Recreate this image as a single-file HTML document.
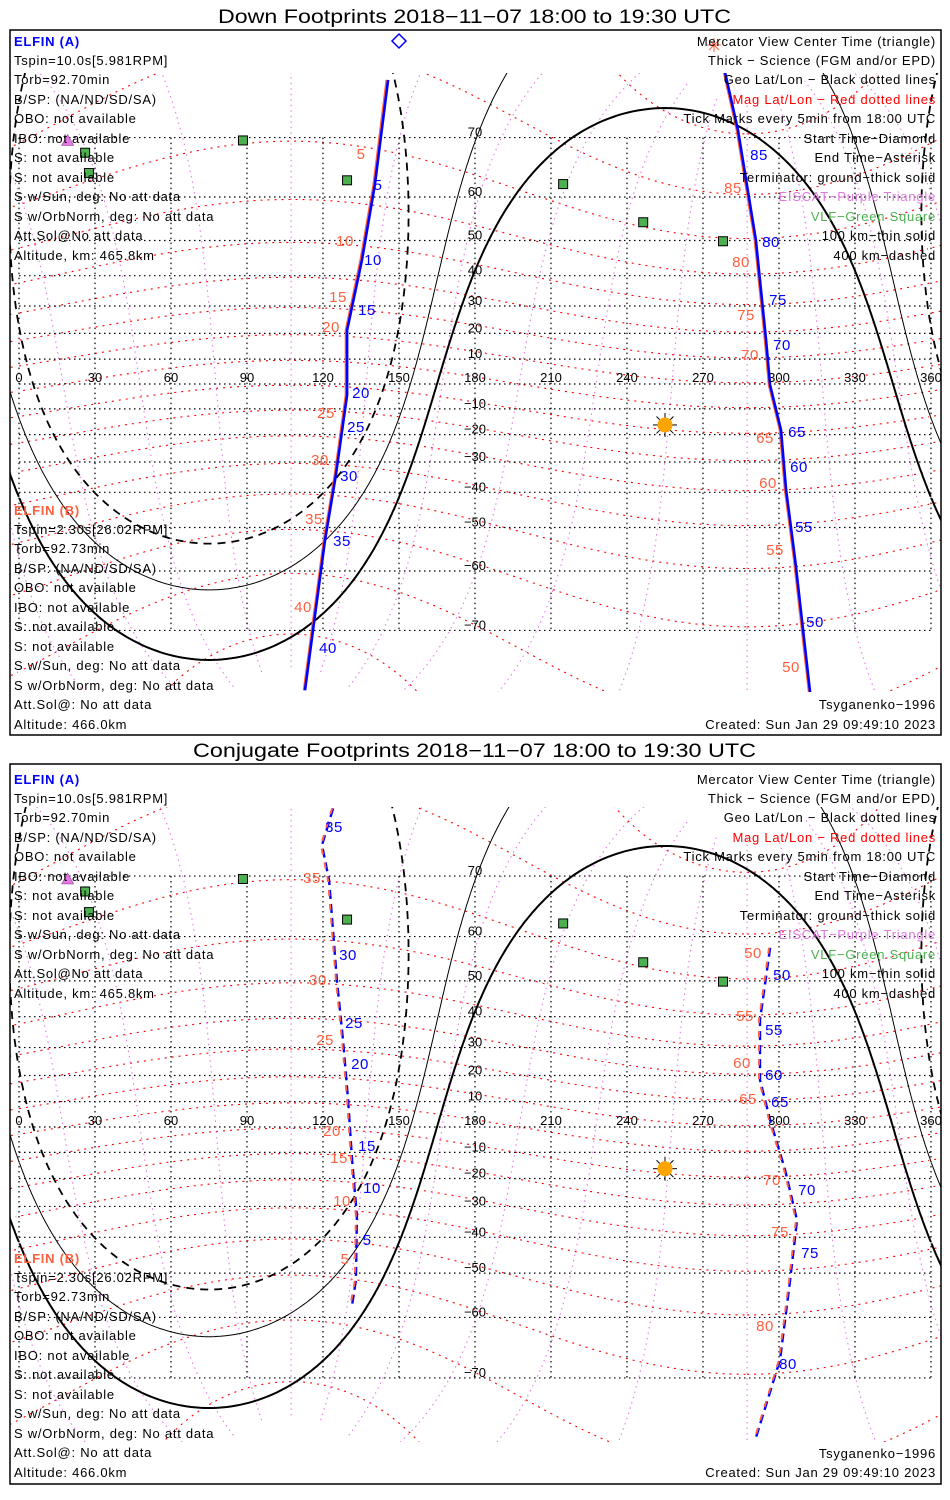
<!DOCTYPE html>
<html><head><meta charset="utf-8"><style>
html,body{margin:0;padding:0;width:950px;height:1500px;overflow:hidden;background:#fff;}
svg{display:block;position:absolute;left:0;top:0;overflow:hidden;}
text{font-family:"Liberation Sans",sans-serif;}
.lt{font-size:13px;letter-spacing:0.75px;fill:#000;}
.rt{font-size:13px;letter-spacing:0.75px;fill:#000;text-anchor:end;}
.ax{font-size:13px;fill:#000;text-anchor:middle;}
.tl{font-size:15px;letter-spacing:0.5px;text-anchor:middle;}
</style></head><body>
<svg id="chart" width="950" height="1500" viewBox="0 0 950 1500" xmlns="http://www.w3.org/2000/svg">
<rect width="950" height="1500" fill="#fff"/>
<defs>
<clipPath id="clip0"><rect x="10" y="73" width="931" height="619"/></clipPath>
<clipPath id="clip1"><rect x="10" y="807" width="931" height="635"/></clipPath>
</defs>
<g id="layers"></g>
</svg>
<script>
// ---- data ----
const lonTicks=[0,30,60,90,120,150,180,210,240,270,300,330,360];
const latTicks=[70,60,50,40,30,20,10,-10,-20,-30,-40,-50,-60,-70];
const magLats=[-80,-70,-60,-50,-40,-30,-20,-10,0,10,20,30,40,50,60,70,80];
const magLons=[0,30,60,90,120,150,180,210,240,270,300,330];
const magPole=[80.5,287.4];
const subsolar=[255.0,-16.3];
const termAngles=[90,100.1,109.7];
// Down footprints (panel 0)
const downA_W_lon=[145.7,140.5,135.4,129.5,129.5,125.1,120.8,112.9];
const downA_W_lat=[76.6,62.4,44.7,21.2,-4.4,-34.4,-53.2,-76.8];
const downB_W_lon=[145.0,139.8,134.7,128.9,128.9,124.5,120.2,112.3];
const downB_W_lat=[76.6,62.4,44.7,21.2,-4.4,-34.4,-53.2,-76.8];
const downA_E_lon=[278.7,283.8,290.9,294.9,296.5,300.8,302.8,306.4,312.3];
const downA_E_lat=[77.3,71.0,50.1,17.4,-0.5,-18.2,-39.2,-57.7,-77.0];
const downB_E_lon=[278.1,283.2,290.3,294.3,295.9,300.2,302.2,305.8,311.7];
const downB_E_lat=[77.3,71.0,50.1,17.4,-0.5,-18.2,-39.2,-57.7,-77.0];
// Conjugate footprints (panel 1)
const conjA_W_lon=[124.0,119.6,122.4,125.5,127.9,129.9,131.5,133.4,133.0,131.5];
const conjA_W_lat=[77.4,73.8,69.4,50.2,32.6,10.6,-13.0,-33.1,-51.8,-57.4];
const conjB_W_lon=[123.6,119.2,122.0,125.1,127.5,129.5,131.1,133.0,132.6,130.7];
const conjB_W_lat=[77.4,73.8,69.4,50.2,32.6,10.6,-13.0,-33.1,-51.8,-58.0];
const conjA_E_lon=[296.5,292.5,292.5,296.5,302.4,307.1,304.4,300.4,290.6];
const conjA_E_lat=[57.7,39.0,18.3,2.8,-16.8,-34.6,-51.8,-67.4,-76.9];
const conjB_E_lon=[296.1,292.1,292.1,296.1,302.0,306.7,304.0,300.0,290.2];
const conjB_E_lat=[57.7,39.0,18.3,2.8,-16.8,-34.6,-51.8,-67.4,-76.9];
const vlfLon=[88.4,26.1,27.6,129.5,214.8,246.4,277.9];
const vlfLat=[69.6,67.8,64.5,63.2,62.5,54.5,49.8];
const eiscatLon=[15.8,19.2];
const eiscatLat=[78.2,69.6];

// ---- projection ----
const P=[{y0:384,k:142,top:73,bot:692},{y0:1127,k:144.6,top:807,bot:1442}];
const R=Math.PI/180;
function X(lon){return 19+lon*2.5333;}
function Y(p,lat){lat=Math.max(-89,Math.min(89,lat));const y=p.y0-p.k*Math.log(Math.tan(Math.PI/4+lat*R/2));return Math.max(p.top-20,Math.min(p.bot+20,y));}
const NS='http://www.w3.org/2000/svg';
const root=document.getElementById('layers');
function el(tag,attrs,parent){const e=document.createElementNS(NS,tag);for(const k in attrs)e.setAttribute(k,attrs[k]);(parent||root).appendChild(e);return e;}
function drawCurve(p,g,lons,lats,style,name){
  for(const s of [-360,0,360]){
    let d='';let prev=null;
    for(let i=0;i<lons.length;i++){
      const c=(prev===null||Math.abs(lons[i]-prev)>180)?'M':'L';
      const x=Math.max(-20,Math.min(970,X(lons[i]+s)));
      d+=c+x.toFixed(1)+','+Y(p,lats[i]).toFixed(1)+' ';prev=lons[i];
    }
    const e=el('path',Object.assign({d:d,fill:'none'},style),g);
    
    
  }
}
function magToGeo(mlat,mlon){
  const lp=magPole[0]*R,op=magPole[1]*R;
  const z=[Math.cos(lp)*Math.cos(op),Math.cos(lp)*Math.sin(op),Math.sin(lp)];
  let y=[-z[1],z[0],0];const n=Math.hypot(y[0],y[1]);y=[y[0]/n,y[1]/n,0];
  const x=[y[1]*z[2]-y[2]*z[1],y[2]*z[0]-y[0]*z[2],y[0]*z[1]-y[1]*z[0]];
  const a=mlat*R,b=mlon*R;
  const mx=Math.cos(a)*Math.cos(b),my=Math.cos(a)*Math.sin(b),mz=Math.sin(a);
  const g=[x[0]*mx+y[0]*my+z[0]*mz,x[1]*mx+y[1]*my+z[1]*mz,x[2]*mx+y[2]*my+z[2]*mz];
  let lon=Math.atan2(g[1],g[0])/R;if(lon<0)lon+=360;
  return [lon,Math.asin(Math.max(-1,Math.min(1,g[2])))/R];
}
function circle(c,ang){
  const la=c[1]*R,lo=c[0]*R,d=ang*R;const lons=[],lats=[];
  for(let t=0;t<=360;t+=0.5){const az=t*R;
    const lat2=Math.asin(Math.sin(la)*Math.cos(d)+Math.cos(la)*Math.sin(d)*Math.cos(az));
    let lon2=lo+Math.atan2(Math.sin(az)*Math.sin(d)*Math.cos(la),Math.cos(d)-Math.sin(la)*Math.sin(lat2));
    let L=lon2/R;L=((L%360)+360)%360;lons.push(L);lats.push(lat2/R);}
  return [lons,lats];
}

P.forEach((p,pi)=>{
  const g=el('g',{'clip-path':'url(#clip'+pi+')'});
  
  
  magLats.forEach(ml=>{const lo=[],la=[];for(let m=0;m<=360;m+=2){const q=magToGeo(ml,m);lo.push(q[0]);la.push(q[1]);}
    drawCurve(p,g,lo,la,{stroke:'#ff0000','stroke-width':1.1,'stroke-dasharray':'2,5'},'mag-lat-line');});
  magLons.forEach(ml=>{const lo=[],la=[];for(let m=-84;m<=84;m+=1){const q=magToGeo(m,ml);lo.push(q[0]);la.push(q[1]);}
    drawCurve(p,g,lo,la,{stroke:'#e87ae8','stroke-width':1.1,'stroke-dasharray':'1.5,4'},'mag-lon-line');});
  latTicks.forEach(lt=>{const e=el('line',{x1:X(0),x2:X(360),y1:Y(p,lt),y2:Y(p,lt),stroke:'#000','stroke-width':1.2,'stroke-dasharray':'1.5,3.5'},g);
    
    });
  const eq=el('line',{x1:X(0),x2:X(360),y1:Y(p,0),y2:Y(p,0),stroke:'#000','stroke-width':1.2,'stroke-dasharray':'1.5,3.5'},g);
  
  
  lonTicks.forEach(lo=>{const e=el('line',{x1:X(lo),x2:X(lo),y1:Y(p,70),y2:Y(p,-70),stroke:'#000','stroke-width':1.2,'stroke-dasharray':'1.5,3.5'},g);
    
    });
  const styles=[{stroke:'#000','stroke-width':2},{stroke:'#000','stroke-width':1},{stroke:'#000','stroke-width':1.8,'stroke-dasharray':'8,6'}];
  const tnames=['terminator-ground','terminator-100km','terminator-400km'];
  termAngles.forEach((a,i)=>{const c=circle(subsolar,a);drawCurve(p,g,c[0],c[1],styles[i],tnames[i]);});
  const sets=pi===0?[[downB_W_lon,downB_W_lat,'#ff6040',1.6,null,'elfin-b-track-west'],[downA_W_lon,downA_W_lat,'#0000ff',2.6,null,'elfin-a-track-west'],[downB_E_lon,downB_E_lat,'#ff6040',1.6,null,'elfin-b-track-east'],[downA_E_lon,downA_E_lat,'#0000ff',2.6,null,'elfin-a-track-east']]
   :[[conjA_W_lon,conjA_W_lat,'#0000ff',2.4,'9,5','elfin-a-track-west'],[conjB_W_lon,conjB_W_lat,'#ff6040',2.0,'6,8','elfin-b-track-west'],[conjA_E_lon,conjA_E_lat,'#0000ff',2.4,'9,5','elfin-a-track-east'],[conjB_E_lon,conjB_E_lat,'#ff6040',2.0,'6,8','elfin-b-track-east']];
  sets.forEach(s=>{const st={stroke:s[2],'stroke-width':s[3]};if(s[4])st['stroke-dasharray']=s[4];drawCurve(p,g,s[0],s[1],st,s[5]);});
  vlfLon.forEach((lo,i)=>{const x=X(lo),y=Y(p,vlfLat[i]);
    const r=el('rect',{x:x-4.5,y:y-4.5,width:9,height:9,fill:'#4caf50',stroke:'#000','stroke-width':1},g);
    
    });
  eiscatLon.forEach((lo,i)=>{const x=X(lo),y=Y(p,eiscatLat[i]);
    const t=el('polygon',{points:(x-6)+','+(y+5)+' '+(x+6)+','+(y+5)+' '+x+','+(y-6),fill:'#e07ae0',stroke:'#a040a0','stroke-width':0.6},g);
    
    });
  const sx=X(subsolar[0]),sy=Y(p,subsolar[1]);
  const sg=el('g',{},g);
  
  
  for(let a=0;a<360;a+=45){el('line',{x1:sx,y1:sy,x2:sx+12*Math.cos(a*R),y2:sy+12*Math.sin(a*R),stroke:'#000','stroke-width':1},sg);}
  el('circle',{cx:sx,cy:sy,r:7.5,fill:'#ffa500'},sg);
  lonTicks.forEach(lo=>{const t=el('text',{x:X(lo),y:Y(p,0)-2,class:'ax'},g);t.textContent=String(lo);
    
    });
  latTicks.forEach(lt=>{const t=el('text',{x:475,y:Y(p,lt)-1,class:'ax'},g);t.textContent=lt<0?'\u2212'+(-lt):String(lt);
    
    });
});
</script>
<svg width="950" height="1500" xmlns="http://www.w3.org/2000/svg">
<rect x="10" y="30" width="931" height="705" fill="none" stroke="#000" stroke-width="1.5"/>
<rect x="10" y="764" width="931" height="720" fill="none" stroke="#000" stroke-width="1.5"/>
<text x="218" y="23" font-size="19" textLength="513" lengthAdjust="spacingAndGlyphs">Down Footprints 2018−11−07 18:00 to 19:30 UTC</text>
<text x="193" y="757" font-size="19" textLength="563" lengthAdjust="spacingAndGlyphs">Conjugate Footprints 2018−11−07 18:00 to 19:30 UTC</text>
<polygon points="399,34 406,41 399,48 392,41" fill="none" stroke="#0000ff" stroke-width="1.5"/>
<g stroke="#ff6040" stroke-width="1"><line x1="707" y1="45" x2="721" y2="45"/><line x1="714" y1="38" x2="714" y2="52"/><line x1="709" y1="40" x2="719" y2="50"/><line x1="719" y1="40" x2="709" y2="50"/></g>
<g>
<text class="lt" x="14" y="46" style="fill:#0000ff;font-weight:bold">ELFIN (A)</text>
<text class="lt" x="14" y="65">Tspin=10.0s[5.981RPM]</text>
<text class="lt" x="14" y="84">Torb=92.70min</text>
<text class="lt" x="14" y="104">B/SP: (NA/ND/SD/SA)</text>
<text class="lt" x="14" y="123">OBO: not available</text>
<text class="lt" x="14" y="143">IBO: not available</text>
<text class="lt" x="14" y="162">S: not available</text>
<text class="lt" x="14" y="182">S: not available</text>
<text class="lt" x="14" y="201">S w/Sun, deg: No att data</text>
<text class="lt" x="14" y="221">S w/OrbNorm, deg: No att data</text>
<text class="lt" x="14" y="240">Att.Sol@No att data</text>
<text class="lt" x="14" y="260">Altitude, km: 465.8km</text>
<text class="lt" x="14" y="515" style="fill:#ff6040;font-weight:bold">ELFIN (B)</text>
<text class="lt" x="14" y="534">Tspin=2.30s[26.02RPM]</text>
<text class="lt" x="14" y="553">Torb=92.73min</text>
<text class="lt" x="14" y="573">B/SP: (NA/ND/SD/SA)</text>
<text class="lt" x="14" y="592">OBO: not available</text>
<text class="lt" x="14" y="612">IBO: not available</text>
<text class="lt" x="14" y="631">S: not available</text>
<text class="lt" x="14" y="651">S: not available</text>
<text class="lt" x="14" y="670">S w/Sun, deg: No att data</text>
<text class="lt" x="14" y="690">S w/OrbNorm, deg: No att data</text>
<text class="lt" x="14" y="709">Att.Sol@: No att data</text>
<text class="lt" x="14" y="729">Altitude: 466.0km</text>
</g>
<g>
<text class="rt" x="936" y="46">Mercator View Center Time (triangle)</text>
<text class="rt" x="936" y="65">Thick − Science (FGM and/or EPD)</text>
<text class="rt" x="936" y="84">Geo Lat/Lon − Black dotted lines</text>
<text class="rt" x="936" y="104" style="fill:#ff0000">Mag Lat/Lon − Red dotted lines</text>
<text class="rt" x="936" y="123">Tick Marks every 5min from 18:00 UTC</text>
<text class="rt" x="936" y="143">Start Time−Diamond</text>
<text class="rt" x="936" y="162">End Time−Asterisk</text>
<text class="rt" x="936" y="182">Terminator: ground−thick solid</text>
<text class="rt" x="936" y="201" style="fill:#e07ae0">EISCAT−Purple Triangle</text>
<text class="rt" x="936" y="221" style="fill:#4caf50">VLF−Green Square</text>
<text class="rt" x="936" y="240">100 km−thin solid</text>
<text class="rt" x="936" y="260">400 km−dashed</text>
<text class="rt" x="936" y="709">Tsyganenko−1996</text>
<text class="rt" x="936" y="729">Created: Sun Jan 29 09:49:10 2023</text>
</g>
<g>
<text class="lt" x="14" y="784" style="fill:#0000ff;font-weight:bold">ELFIN (A)</text>
<text class="lt" x="14" y="803">Tspin=10.0s[5.981RPM]</text>
<text class="lt" x="14" y="822">Torb=92.70min</text>
<text class="lt" x="14" y="842">B/SP: (NA/ND/SD/SA)</text>
<text class="lt" x="14" y="861">OBO: not available</text>
<text class="lt" x="14" y="881">IBO: not available</text>
<text class="lt" x="14" y="900">S: not available</text>
<text class="lt" x="14" y="920">S: not available</text>
<text class="lt" x="14" y="939">S w/Sun, deg: No att data</text>
<text class="lt" x="14" y="959">S w/OrbNorm, deg: No att data</text>
<text class="lt" x="14" y="978">Att.Sol@No att data</text>
<text class="lt" x="14" y="998">Altitude, km: 465.8km</text>
<text class="lt" x="14" y="1263" style="fill:#ff6040;font-weight:bold">ELFIN (B)</text>
<text class="lt" x="14" y="1282">Tspin=2.30s[26.02RPM]</text>
<text class="lt" x="14" y="1301">Torb=92.73min</text>
<text class="lt" x="14" y="1321">B/SP: (NA/ND/SD/SA)</text>
<text class="lt" x="14" y="1340">OBO: not available</text>
<text class="lt" x="14" y="1360">IBO: not available</text>
<text class="lt" x="14" y="1379">S: not available</text>
<text class="lt" x="14" y="1399">S: not available</text>
<text class="lt" x="14" y="1418">S w/Sun, deg: No att data</text>
<text class="lt" x="14" y="1438">S w/OrbNorm, deg: No att data</text>
<text class="lt" x="14" y="1457">Att.Sol@: No att data</text>
<text class="lt" x="14" y="1477">Altitude: 466.0km</text>
</g>
<g>
<text class="rt" x="936" y="784">Mercator View Center Time (triangle)</text>
<text class="rt" x="936" y="803">Thick − Science (FGM and/or EPD)</text>
<text class="rt" x="936" y="822">Geo Lat/Lon − Black dotted lines</text>
<text class="rt" x="936" y="842" style="fill:#ff0000">Mag Lat/Lon − Red dotted lines</text>
<text class="rt" x="936" y="861">Tick Marks every 5min from 18:00 UTC</text>
<text class="rt" x="936" y="881">Start Time−Diamond</text>
<text class="rt" x="936" y="900">End Time−Asterisk</text>
<text class="rt" x="936" y="920">Terminator: ground−thick solid</text>
<text class="rt" x="936" y="939" style="fill:#e07ae0">EISCAT−Purple Triangle</text>
<text class="rt" x="936" y="959" style="fill:#4caf50">VLF−Green Square</text>
<text class="rt" x="936" y="978">100 km−thin solid</text>
<text class="rt" x="936" y="998">400 km−dashed</text>
<text class="rt" x="936" y="1458">Tsyganenko−1996</text>
<text class="rt" x="936" y="1477">Created: Sun Jan 29 09:49:10 2023</text>
</g>
<g fill="#0000ff">
<text class="tl" x="378" y="190">5</text><text class="tl" x="373" y="265">10</text><text class="tl" x="367" y="315">15</text><text class="tl" x="361" y="398">20</text><text class="tl" x="356" y="432">25</text><text class="tl" x="349" y="481">30</text><text class="tl" x="342" y="546">35</text><text class="tl" x="328" y="653">40</text>
<text class="tl" x="759" y="160">85</text><text class="tl" x="771" y="247">80</text><text class="tl" x="778" y="305">75</text><text class="tl" x="782" y="350">70</text><text class="tl" x="797" y="437">65</text><text class="tl" x="799" y="472">60</text><text class="tl" x="804" y="532">55</text><text class="tl" x="815" y="627">50</text>
</g>
<g fill="#ff6040">
<text class="tl" x="361" y="159">5</text><text class="tl" x="345" y="246">10</text><text class="tl" x="338" y="302">15</text><text class="tl" x="331" y="332">20</text><text class="tl" x="326" y="418">25</text><text class="tl" x="320" y="465">30</text><text class="tl" x="314" y="524">35</text><text class="tl" x="303" y="612">40</text>
<text class="tl" x="733" y="193">85</text><text class="tl" x="741" y="267">80</text><text class="tl" x="746" y="320">75</text><text class="tl" x="750" y="360">70</text><text class="tl" x="765" y="443">65</text><text class="tl" x="768" y="488">60</text><text class="tl" x="775" y="555">55</text><text class="tl" x="791" y="672">50</text>
</g>
<g fill="#0000ff">
<text class="tl" x="334" y="832">35</text><text class="tl" x="348" y="960">30</text><text class="tl" x="354" y="1028">25</text><text class="tl" x="360" y="1069">20</text><text class="tl" x="367" y="1151">15</text><text class="tl" x="372" y="1193">10</text><text class="tl" x="367" y="1245">5</text>
<text class="tl" x="782" y="980">50</text><text class="tl" x="774" y="1035">55</text><text class="tl" x="774" y="1080">60</text><text class="tl" x="780" y="1107">65</text><text class="tl" x="807" y="1195">70</text><text class="tl" x="810" y="1258">75</text><text class="tl" x="788" y="1369">80</text>
</g>
<g fill="#ff6040">
<text class="tl" x="312" y="883">35</text><text class="tl" x="318" y="985">30</text><text class="tl" x="325" y="1045">25</text><text class="tl" x="332" y="1136">20</text><text class="tl" x="339" y="1163">15</text><text class="tl" x="342" y="1206">10</text><text class="tl" x="345" y="1264">5</text>
<text class="tl" x="753" y="958">50</text><text class="tl" x="745" y="1021">55</text><text class="tl" x="742" y="1068">60</text><text class="tl" x="748" y="1104">65</text><text class="tl" x="772" y="1185">70</text><text class="tl" x="780" y="1237">75</text><text class="tl" x="765" y="1331">80</text>
</g>
</svg>
</body></html>
